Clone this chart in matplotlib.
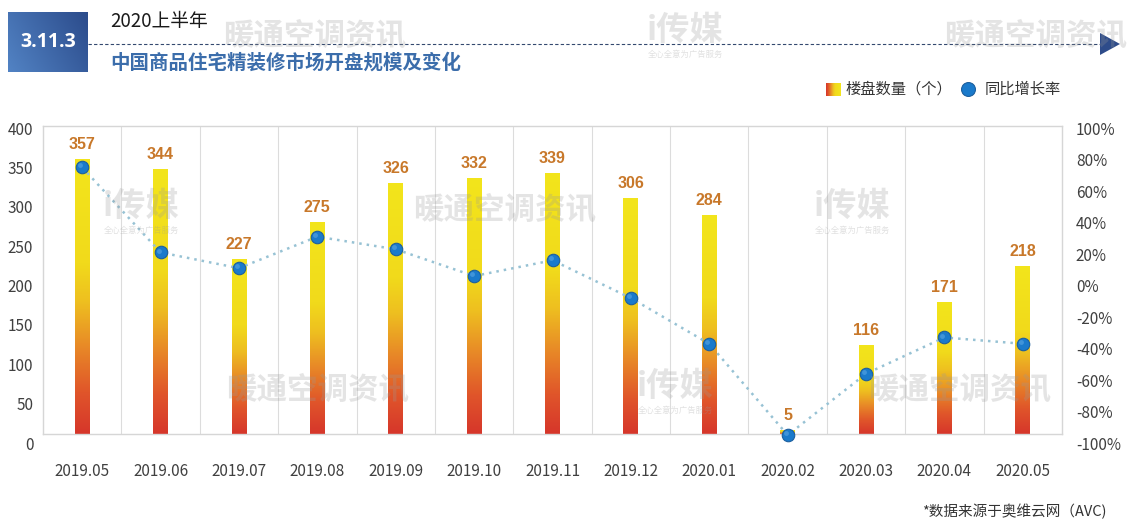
import numpy as np
import matplotlib
matplotlib.use('Agg')
import matplotlib.pyplot as plt
from matplotlib import font_manager
from matplotlib.colors import LinearSegmentedColormap
from matplotlib.patches import Polygon
from matplotlib.lines import Line2D

# ---------------- data ----------------
categories = ['2019.05', '2019.06', '2019.07', '2019.08', '2019.09', '2019.10', '2019.11',
              '2019.12', '2020.01', '2020.02', '2020.03', '2020.04', '2020.05']
counts = [357, 344, 227, 275, 326, 332, 339, 306, 284, 5, 116, 171, 218]
yoy_pct = [75, 21, 11, 31, 23, 6, 16, -8, -37, -95, -56, -33, -37]
left_ticks = [0, 50, 100, 150, 200, 250, 300, 350, 400]
right_ticks = [-100, -80, -60, -40, -20, 0, 20, 40, 60, 80, 100]
header_no = '3.11.3'
header_sub = '2020上半年'
title = '中国商品住宅精装修市场开盘规模及变化'
legend_bar = '楼盘数量（个）'
legend_line = '同比增长率'
source = '*数据来源于奥维云网（AVC)'

# ---------------- setup ----------------
W, H, DPI = 1141, 526, 100
plt.rcParams['font.family'] = ['Noto Sans CJK SC', 'DejaVu Sans']
fig = plt.figure(figsize=(W / DPI, H / DPI), dpi=DPI)
fig.patch.set_facecolor('white')

def fx(px):
    return px / W

def fy(py):
    return 1 - py / H

names = {f.name for f in font_manager.fontManager.ttflist}
if 'Liberation Sans Narrow' in names:
    num_font, num_size = 'Liberation Sans Narrow', 13
else:
    num_font, num_size = 'Liberation Sans', 11.5

bar_cmap = LinearSegmentedColormap.from_list(
    'bar', [(0.0, '#d6362b'), (0.15, '#e0552a'), (0.32, '#e88a27'),
            (0.48, '#eebf20'), (0.62, '#f1da1b'), (1.0, '#f3e51c')])

x = np.arange(len(categories))

# ---------------- main axes (bars) ----------------
ax = fig.add_axes([fx(43), fy(434), fx(1062 - 43), (434 - 126) / H])
ax.set_facecolor('none')
bars = ax.bar(x, counts, width=0.19, color='none', edgecolor='none', zorder=2)
grad = np.linspace(0, 1, 256).reshape(-1, 1)
for b in bars:
    x0, w, h = b.get_x(), b.get_width(), b.get_height()
    im = ax.imshow(grad, cmap=bar_cmap, extent=[x0, x0 + w, 0, h], origin='lower',
                   aspect='auto', zorder=2, interpolation='bicubic')
    im.set_clip_path(b)
for b, v in zip(bars, counts):
    ax.annotate(str(v), (b.get_x() + b.get_width() / 2, b.get_height()),
                xytext=(0, 5), textcoords='offset points', ha='center', va='bottom',
                fontsize=num_size, fontweight='bold', color='#c8782a',
                family=num_font, zorder=5)
ax.set_xlim(-0.5, len(categories) - 0.5)
ax.set_ylim(0, 400)
ax.set_yticks([])
ax.set_xticks(x)
ax.set_xticklabels(categories, fontsize=11, color='#404040')
ax.tick_params(axis='x', length=0, pad=21)
ax.set_xticks(x[:-1] + 0.5, minor=True)
ax.tick_params(axis='x', which='minor', length=0)
ax.grid(True, which='minor', axis='x', color='#dcdcdc', lw=0.8)
for s in ax.spines.values():
    s.set_color('#d6d6d6')
    s.set_linewidth(1.0)

# ---------------- label axes + line axes ----------------
axL = fig.add_axes([fx(43), fy(443), fx(1062 - 43), (443 - 128) / H])
axL.patch.set_visible(False)
for s in axL.spines.values():
    s.set_visible(False)
axL.set_xlim(-0.5, len(categories) - 0.5)
axL.set_xticks([])
axL.set_ylim(0, 400)
axL.set_yticks(left_ticks)
axL.set_yticklabels([str(t) for t in left_ticks], fontsize=11, color='#404040')
axL.tick_params(axis='y', length=0, pad=7)

axR = axL.twinx()
axR.patch.set_visible(False)
for s in axR.spines.values():
    s.set_visible(False)
axR.set_xlim(-0.5, len(categories) - 0.5)
axR.set_ylim(-100, 100)
axR.set_yticks(right_ticks)
axR.set_yticklabels([f'{t}%' for t in right_ticks], fontsize=11, color='#404040')
axR.tick_params(axis='y', length=0, pad=10)
axR.plot(x, yoy_pct, ls=(0, (1, 2)), color='#97c2d4', lw=1.8, zorder=3)
axR.plot(x, yoy_pct, 'o', ms=9, mfc='#1a7acb', mec='#1c5f9e', mew=0.8, zorder=4,
         clip_on=False)
axR.plot(x - 0.025, np.array(yoy_pct) + 1.2, 'o', ms=3.5, mfc='#5aa6e4', mec='none',
         alpha=0.6, zorder=4, clip_on=False)

# ---------------- header ----------------
hax = fig.add_axes([fx(8), fy(72), fx(88 - 8), (72 - 12) / H])
gx = np.linspace(0, 1, 200)
gy = np.linspace(0, 1, 60)
G = 0.7 * gx[None, :] + 0.3 * (1 - gy[:, None])
hcmap = LinearSegmentedColormap.from_list('hdr', ['#5283c4', '#2b4b8b'])
hax.imshow(G, cmap=hcmap, aspect='auto', extent=[0, 1, 0, 1], origin='upper')
hax.set_xlim(0, 1)
hax.set_ylim(0, 1)
hax.axis('off')
hax.text(0.5, 0.5, header_no, color='white', fontsize=14, fontweight='bold',
         ha='center', va='center', family=['Open Sans', 'DejaVu Sans'])

fig.add_artist(Line2D([fx(88), fx(1100)], [fy(44), fy(44)], transform=fig.transFigure,
                      ls=(0, (3, 2)), color='#34496f', lw=0.8))
fig.add_artist(Polygon([(fx(1100), fy(33)), (fx(1100), fy(55)), (fx(1120), fy(44))],
                       closed=True, transform=fig.transFigure, color='#2e4c8a', lw=0))
fig.text(fx(110), fy(22), header_sub, fontsize=13.5, color='#1a1a1a', va='center', ha='left')
fig.text(fx(110), fy(63), title, fontsize=14, fontweight='bold', color='#3b6dab',
         va='center', ha='left')

# ---------------- legend ----------------
lax = fig.add_axes([fx(826), fy(96), fx(14), 13 / H])
lax.imshow(np.linspace(0, 1, 50).reshape(1, -1), cmap=bar_cmap, aspect='auto',
           extent=[0, 1, 0, 1])
lax.axis('off')
fig.text(fx(846), fy(89), legend_bar, fontsize=11, color='#333333', va='center', ha='left')
fig.add_artist(Line2D([fx(968)], [fy(89)], transform=fig.transFigure, marker='o', ms=10,
                      mfc='#1a7acb', mec='#1c5f9e', mew=0.8, ls='none'))
fig.text(fx(985), fy(89), legend_line, fontsize=11, color='#333333', va='center', ha='left')

# ---------------- source ----------------
fig.text(fx(1107), fy(511), source, fontsize=10.5, color='#333333', va='center', ha='right')

# ---------------- watermarks ----------------
wm_kw = dict(fontsize=22, fontweight='bold', color='#9a9a9a', alpha=0.26,
             ha='center', va='center', zorder=20)
for px, py in [(315, 36), (505, 209), (318, 390), (960, 390), (1036, 35)]:
    fig.text(fx(px), fy(py), '暖通空调资讯', **wm_kw)
for px, py in [(685, 30), (141, 206), (852, 206), (675, 386)]:
    fig.text(fx(px), fy(py), 'i传媒', fontsize=24, fontweight='bold', color='#9a9a9a',
             alpha=0.26, ha='center', va='center', zorder=20)
    fig.text(fx(px), fy(py + 24), '全心全意为广告服务', fontsize=6, color='#9a9a9a',
             alpha=0.3, ha='center', va='center', zorder=20)

fig.savefig('out.png', dpi=DPI, facecolor='white')
